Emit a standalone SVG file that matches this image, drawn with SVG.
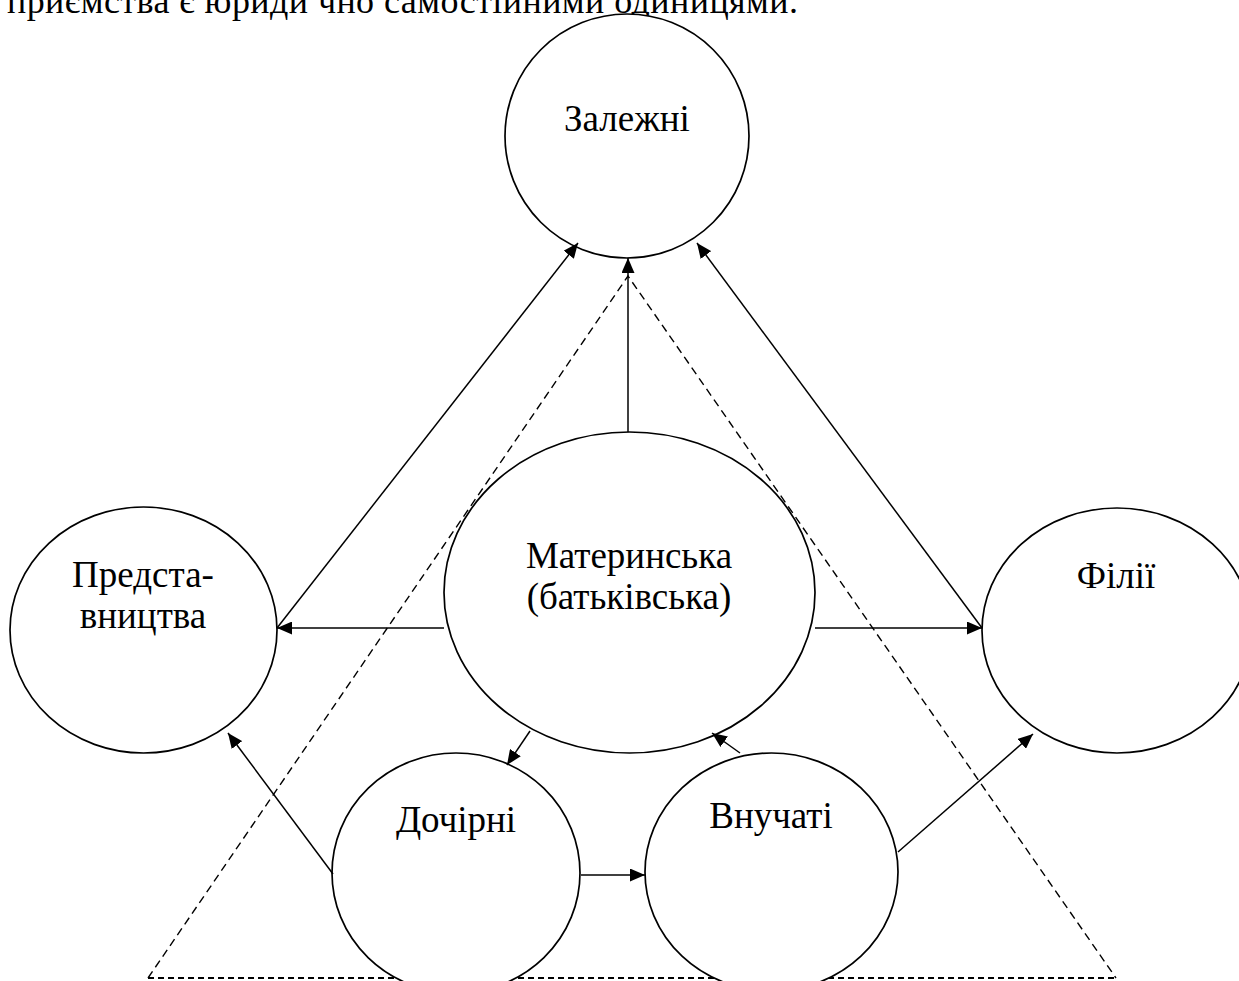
<svg xmlns="http://www.w3.org/2000/svg" width="1239" height="981" viewBox="0 0 1239 981">
  <style>
    .node { fill: #ffffff; stroke: #000000; stroke-width: 1.7; }
    .lbl { font-size: 37px; fill: #000000; text-anchor: middle; }
    .conn { stroke: #000000; stroke-width: 1.5; fill: none; }
    .tri { stroke: #000000; stroke-width: 1.4; fill: none; stroke-dasharray: 8 5; }
    .base { stroke: #000000; stroke-width: 2.2; fill: none; stroke-dasharray: 6 4; }
  </style>
  <defs>
    <marker id="arr" markerUnits="userSpaceOnUse" markerWidth="16" markerHeight="13" refX="15" refY="6.5" orient="auto">
      <path d="M0,0 L15,6.5 L0,13 Z" fill="#000000"/>
    </marker>
  </defs>
  <rect x="0" y="0" width="1239" height="981" fill="#ffffff"/>

  <text x="7" y="13" font-family="'Liberation Serif', serif" font-size="36" textLength="791" lengthAdjust="spacing">приємства є юриди чно самостійними одиницями.</text>

  <g id="triangle">
    <path class="tri" d="M148,978 L628,276 L1116,978"/>
    <line class="base" x1="148" y1="978" x2="1116" y2="978"/>
  </g>

  <g id="zalezhni">
    <ellipse class="node" cx="627" cy="136" rx="122" ry="122"/>
    <text class="lbl" font-family="'Liberation Serif', serif" x="627" y="131">Залежні</text>
  </g>
  <g id="materynska">
    <ellipse class="node" cx="629.5" cy="592.5" rx="185.5" ry="160.5"/>
    <text class="lbl" font-family="'Liberation Serif', serif" x="629" y="568">Материнська</text>
    <text class="lbl" font-family="'Liberation Serif', serif" x="629" y="609">(батьківська)</text>
  </g>
  <g id="predstavnytstva">
    <ellipse class="node" cx="143.5" cy="630" rx="133.5" ry="123"/>
    <text class="lbl" font-family="'Liberation Serif', serif" x="143" y="587">Предста-</text>
    <text class="lbl" font-family="'Liberation Serif', serif" x="143" y="628">вництва</text>
  </g>
  <g id="filii">
    <ellipse class="node" cx="1117" cy="630.5" rx="135" ry="122.5"/>
    <text class="lbl" font-family="'Liberation Serif', serif" x="1116" y="588">Філії</text>
  </g>
  <g id="dochirni">
    <ellipse class="node" cx="456" cy="873" rx="124" ry="120"/>
    <text class="lbl" font-family="'Liberation Serif', serif" x="456" y="832">Дочірні</text>
  </g>
  <g id="vnuchati">
    <ellipse class="node" cx="771.5" cy="872" rx="126.5" ry="119"/>
    <text class="lbl" font-family="'Liberation Serif', serif" x="771" y="828" font-size="33">Внучаті</text>
  </g>

  <g id="connectors">
    <line class="conn" x1="628" y1="432" x2="628" y2="258" marker-end="url(#arr)"/>
    <line class="conn" x1="277" y1="628" x2="578" y2="243" marker-end="url(#arr)"/>
    <line class="conn" x1="982" y1="628" x2="697" y2="243" marker-end="url(#arr)"/>
    <line class="conn" x1="444" y1="628" x2="277" y2="628" marker-end="url(#arr)"/>
    <line class="conn" x1="815" y1="628" x2="982" y2="628" marker-end="url(#arr)"/>
    <line class="conn" x1="530" y1="731" x2="507" y2="765" marker-end="url(#arr)"/>
    <line class="conn" x1="740" y1="753" x2="712" y2="733" marker-end="url(#arr)"/>
    <line class="conn" x1="581" y1="875" x2="645" y2="875" marker-end="url(#arr)"/>
    <line class="conn" x1="333" y1="874" x2="228" y2="733" marker-end="url(#arr)"/>
    <line class="conn" x1="898" y1="852" x2="1033" y2="734" marker-end="url(#arr)"/>
  </g>
</svg>
